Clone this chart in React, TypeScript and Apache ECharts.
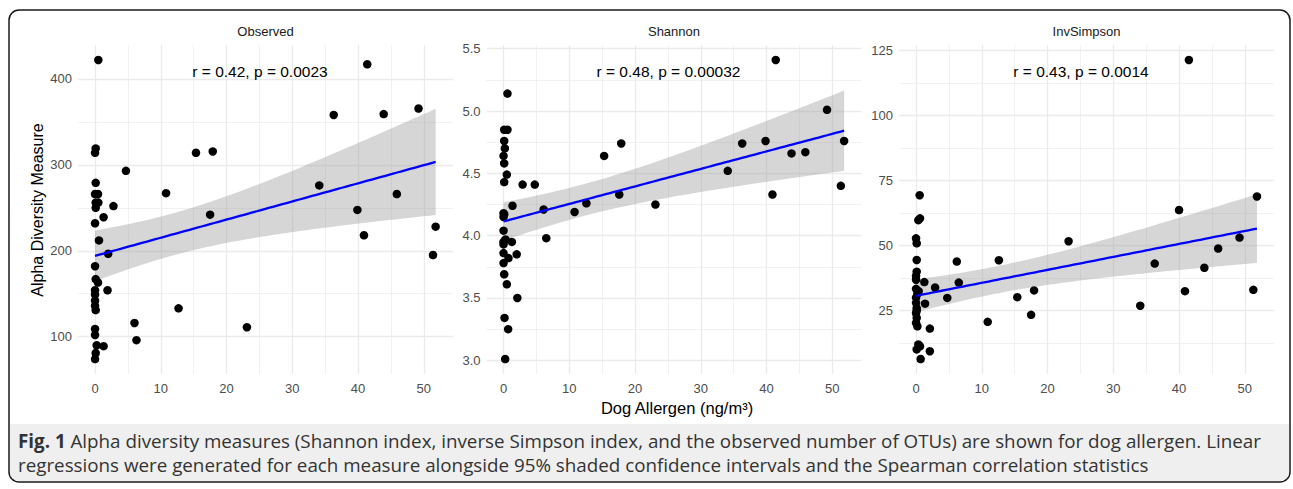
import React, { useEffect, useRef } from "react";
import * as echarts from "echarts";

// ---------- data ----------
const panelTitles = ["Observed", "Shannon", "InvSimpson"];
const statLabels = ["r = 0.42, p = 0.0023", "r = 0.48, p = 0.00032", "r = 0.43, p = 0.0014"];

const observedPoints: [number, number][] = [
  [0.5, 422], [0.1, 319], [0, 314], [4.7, 293], [0.1, 279], [0, 266], [0.45, 266], [0.1, 256],
  [0.5, 256], [0.1, 250], [2.8, 252], [10.8, 267], [15.35, 314], [17.9, 315.5], [41.4, 417],
  [36.3, 358], [43.9, 359], [49.2, 365.5], [34.1, 276], [45.9, 266], [39.9, 247.5], [17.5, 242],
  [1.3, 239], [0, 232], [0.6, 212], [2.0, 196.5], [0, 182], [0.1, 167], [0.45, 163], [1.9, 154],
  [0, 154], [0, 149], [0, 142], [0, 136], [0.1, 131], [12.7, 133], [6.0, 116], [0, 109], [0, 102],
  [6.3, 96], [0.25, 90], [1.3, 89], [0.1, 81], [0, 74], [51.8, 228], [40.9, 218], [51.4, 195],
  [23.1, 111],
];

const shannonPoints: [number, number][] = [
  [0.6, 5.14], [0.1, 4.85], [0.6, 4.85], [0.1, 4.76], [0.2, 4.7], [0, 4.64], [0.1, 4.58],
  [0.5, 4.49], [0.1, 4.43], [2.9, 4.41], [4.75, 4.41], [15.3, 4.64], [17.9, 4.74], [1.36, 4.24],
  [6.1, 4.21], [12.6, 4.26], [17.6, 4.33], [23.1, 4.25], [10.8, 4.19], [41.4, 5.41], [49.2, 5.01],
  [36.3, 4.74], [39.85, 4.76], [51.8, 4.76], [43.8, 4.66], [45.9, 4.67], [34.1, 4.52], [51.3, 4.4],
  [40.9, 4.33], [0, 4.18], [0, 4.15], [0.1, 4.17], [0, 4.04], [6.5, 3.98], [0, 3.95], [0, 3.93],
  [0.3, 3.97], [1.27, 3.95], [0, 3.86], [2.0, 3.85], [0.75, 3.82], [0, 3.78], [0.1, 3.69],
  [0.5, 3.61], [2.1, 3.5], [0.15, 3.34], [0.7, 3.25], [0.25, 3.01],
];

const invSimpsonPoints: [number, number][] = [
  [0.55, 69.4], [41.5, 121.4], [51.85, 68.9], [40.0, 63.7], [0.35, 59.8], [0.6, 60.5], [0, 52.8],
  [0.1, 50.9], [0.1, 44.5], [0.1, 40.0], [0, 38.4], [0, 36.9], [1.26, 36.0], [6.2, 43.9],
  [12.6, 44.4], [23.2, 51.7], [2.9, 33.9], [6.5, 35.8], [4.75, 29.9], [17.95, 32.8], [15.4, 30.2],
  [0, 33.4], [0.2, 31.5], [0.4, 32.5], [0, 30], [1.37, 27.7], [0, 28], [0.1, 26], [0.1, 25],
  [0, 24.1], [0.1, 22.2], [0, 20.3], [0.2, 19.0], [17.5, 23.4], [10.9, 20.7], [2.1, 18.1],
  [0.35, 12], [0.6, 11.3], [0.1, 10.1], [2.1, 9.4], [0.7, 6.4], [49.2, 53.1], [45.95, 48.9],
  [36.3, 43.1], [43.85, 41.5], [40.9, 32.5], [51.3, 33.0], [34.1, 26.9],
];

const xTicks = [0, 10, 20, 30, 40, 50];
const xMinorTicks = [5, 15, 25, 35, 45];
const observedTicks = [100, 200, 300, 400];
const observedMinor = [150, 250, 350];
const shannonTicks = [3.0, 3.5, 4.0, 4.5, 5.0, 5.5];
const shannonMinor = [3.25, 3.75, 4.25, 4.75, 5.25];
const invSimpsonTicks = [25, 50, 75, 100, 125];
const invSimpsonMinor = [12.5, 37.5, 62.5, 87.5, 112.5];

const xAxisTitle = "Dog Allergen (ng/m³)";
const yAxisTitle = "Alpha Diversity Measure";
const captionLine1 =
  "Alpha diversity measures (Shannon index, inverse Simpson index, and the observed number of OTUs) are shown for dog allergen. Linear";
const captionLine2 =
  "regressions were generated for each measure alongside 95% shaded confidence intervals and the Spearman correlation statistics";

// ---------- helpers ----------
function expandRange(vals: number[]): [number, number] {
  const mn = Math.min(...vals);
  const mx = Math.max(...vals);
  const pad = (mx - mn) * 0.05;
  return [mn - pad, mx + pad];
}

function lmBand(points: [number, number][], steps = 80) {
  const n = points.length;
  const mx = points.reduce((s, p) => s + p[0], 0) / n;
  const my = points.reduce((s, p) => s + p[1], 0) / n;
  let sxx = 0, sxy = 0;
  points.forEach(([x, y]) => { sxx += (x - mx) ** 2; sxy += (x - mx) * (y - my); });
  const b = sxy / sxx;
  const a = my - b * mx;
  let sse = 0;
  points.forEach(([x, y]) => { sse += (y - a - b * x) ** 2; });
  const df = n - 2;
  const s = Math.sqrt(sse / df);
  const z = 1.959964;
  const t = z + (z ** 3 + z) / (4 * df);
  const xs = points.map((p) => p[0]);
  const x0 = Math.min(...xs), x1 = Math.max(...xs);
  const out: [number, number, number, number][] = [];
  for (let i = 0; i <= steps; i++) {
    const x = x0 + ((x1 - x0) * i) / steps;
    const fit = a + b * x;
    const se = s * Math.sqrt(1 / n + (x - mx) ** 2 / sxx);
    out.push([x, fit, fit - t * se, fit + t * se]);
  }
  return out;
}

const FONT = "'Liberation Sans', Arial, sans-serif";
const CAPTION_FONT = "'Open Sans', 'Noto Sans', sans-serif";
const GRID_TOP = 45;
const GRID_H = 329;
const GRID_W = 375;
const panelLefts = [78, 486.5, 899];

export default function App() {
  const ref = useRef<HTMLDivElement>(null);

  useEffect(() => {
    if (!ref.current) return;
    const chart = echarts.init(ref.current, undefined, { renderer: "svg" });

    const allX = [...observedPoints, ...shannonPoints, ...invSimpsonPoints].map((p) => p[0]);
    const [xMin, xMax] = expandRange(allX);

    const panels = [
      { pts: observedPoints, ticks: observedTicks, minor: observedMinor, fmt: (v: number) => String(v) },
      { pts: shannonPoints, ticks: shannonTicks, minor: shannonMinor, fmt: (v: number) => v.toFixed(1) },
      { pts: invSimpsonPoints, ticks: invSimpsonTicks, minor: invSimpsonMinor, fmt: (v: number) => String(v) },
    ];

    const grid: any[] = [];
    const xAxis: any[] = [];
    const yAxis: any[] = [];
    const series: any[] = [];
    const graphic: any[] = [];

    // frame + caption background
    graphic.push({
      type: "rect",
      shape: { x: 9, y: 10, width: 1281, height: 472, r: 10 },
      style: { fill: "#ffffff", stroke: "#1a1a1a", lineWidth: 1.5 },
      z: -10,
    });
    graphic.push({
      type: "rect",
      shape: { x: 10, y: 424, width: 1279, height: 57, r: [0, 0, 9, 9] },
      style: { fill: "#efefef" },
      z: -9,
    });

    panels.forEach((p, i) => {
      const [yMin, yMax] = expandRange(p.pts.map((q) => q[1]));
      const left = panelLefts[i];
      grid.push({ left, top: GRID_TOP, width: GRID_W, height: GRID_H, containLabel: false });
      xAxis.push({
        type: "value", gridIndex: i, min: xMin, max: xMax,
        axisLine: { show: false }, axisTick: { show: false }, splitLine: { show: false },
        axisLabel: { customValues: xTicks, color: "#4d4d4d", fontSize: 13, fontFamily: FONT, margin: 8, formatter: (v: number) => String(v) },
      });
      yAxis.push({
        type: "value", gridIndex: i, min: yMin, max: yMax,
        axisLine: { show: false }, axisTick: { show: false }, splitLine: { show: false },
        axisLabel: { customValues: p.ticks, color: "#4d4d4d", fontSize: 13, fontFamily: FONT, margin: 6, formatter: p.fmt },
      });

      const gridLines = [
        ...xMinorTicks.map((v) => ({ xAxis: v, lineStyle: { width: 0.7 } })),
        ...p.minor.map((v) => ({ yAxis: v, lineStyle: { width: 0.7 } })),
        ...xTicks.map((v) => ({ xAxis: v, lineStyle: { width: 1.3 } })),
        ...p.ticks.map((v) => ({ yAxis: v, lineStyle: { width: 1.3 } })),
      ];

      series.push({
        type: "scatter", xAxisIndex: i, yAxisIndex: i, data: p.pts,
        symbolSize: 8.5, itemStyle: { color: "#000000", opacity: 1 }, silent: true,
        markLine: {
          silent: true, z: 1, symbol: ["none", "none"], label: { show: false },
          lineStyle: { color: "#ebebeb", type: "solid" },
          emphasis: { disabled: true },
          data: gridLines,
        },
      });

      const band = lmBand(p.pts);
      series.push({
        type: "custom", xAxisIndex: i, yAxisIndex: i, silent: true,
        data: [[band[0][0], band[0][1]]],
        renderItem: (_params: any, api: any) => {
          const upper = band.map((r) => api.coord([r[0], r[3]]));
          const lower = band.map((r) => api.coord([r[0], r[2]])).reverse();
          return {
            type: "polygon",
            shape: { points: upper.concat(lower) },
            style: { fill: "#999999", opacity: 0.4 },
          };
        },
      });
      series.push({
        type: "line", xAxisIndex: i, yAxisIndex: i, silent: true,
        data: band.map((r) => [r[0], r[1]]),
        showSymbol: false, symbol: "none",
        lineStyle: { color: "#0000ff", width: 2.3 },
      });

      graphic.push({
        type: "text", x: left + GRID_W / 2, y: 31, z: 100,
        style: { text: panelTitles[i], fontSize: 13, fill: "#1a1a1a", fontFamily: FONT, align: "center", verticalAlign: "middle" },
      });
      graphic.push({
        type: "text", x: left + 182, y: 71, z: 100,
        style: { text: statLabels[i], fontSize: 15.5, fill: "#000000", fontFamily: FONT, align: "center", verticalAlign: "middle" },
      });
    });

    graphic.push({
      type: "text", x: 37, y: 210, rotation: Math.PI / 2, z: 100,
      style: { text: yAxisTitle, fontSize: 16, fill: "#000000", fontFamily: FONT, align: "center", verticalAlign: "middle" },
    });
    graphic.push({
      type: "text", x: 677, y: 408, z: 100,
      style: { text: xAxisTitle, fontSize: 16.5, fill: "#000000", fontFamily: FONT, align: "center", verticalAlign: "middle" },
    });
    graphic.push({
      type: "text", x: 18, y: 441, z: 100,
      style: {
        text: "{b|Fig. 1} " + captionLine1,
        fontSize: 18.8, fill: "#333333", fontFamily: CAPTION_FONT,
        align: "left", verticalAlign: "middle",
        rich: { b: { fontWeight: "bold", fontSize: 18.8, fill: "#333333", fontFamily: CAPTION_FONT } },
      },
    });
    graphic.push({
      type: "text", x: 18, y: 465, z: 100,
      style: {
        text: captionLine2,
        fontSize: 18.8, fill: "#333333", fontFamily: CAPTION_FONT,
        align: "left", verticalAlign: "middle",
      },
    });

    chart.setOption({
      animation: false,
      backgroundColor: "#ffffff",
      textStyle: { fontFamily: FONT },
      grid, xAxis, yAxis, series, graphic,
    });

    return () => chart.dispose();
  }, []);

  return (
    <div
      ref={ref}
      style={{ position: "absolute", left: 0, top: 0, width: 1293, height: 489 }}
    />
  );
}
